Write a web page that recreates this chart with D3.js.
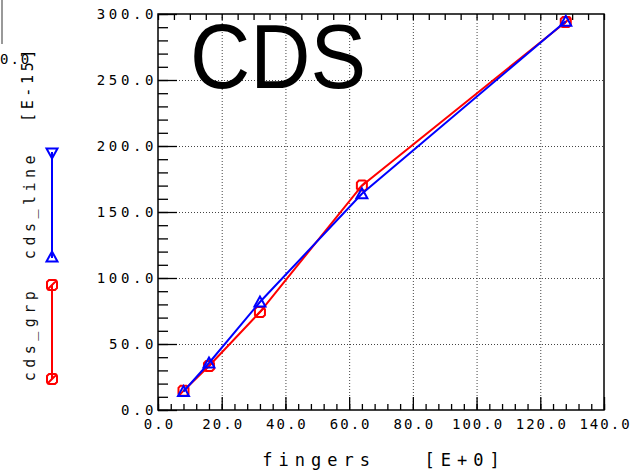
<!DOCTYPE html>
<html>
<head>
<meta charset="utf-8">
<script src="https://cdn.jsdelivr.net/npm/d3@7"></script>
<style>
  html, body { margin: 0; padding: 0; background: #fff; }
  svg { display: block; }
  .tick text { font-family: "DejaVu Sans Mono", monospace; font-size: 14px; fill: #000; }
  .yax .tick text { letter-spacing: 3.6px; }
  .xax .tick text { letter-spacing: 2px; }
</style>
</head>
<body>
<svg id="chart" width="644" height="470"></svg>
<script>
// ---- data ----
const fingers   = [8, 16, 32, 64, 128];
const cdsGrp    = [14.5, 33.3, 74.2, 170, 294];
const cdsLine   = [14, 35.6, 81.8, 163.8, 294.5];
const seriesNames = ["cds_grp", "cds_line"];
const seriesColors = ["#ff0000", "#0000ff"];
const xTickValues = [0, 20, 40, 60, 80, 100, 120, 140];
const yTickValues = [0, 50, 100, 150, 200, 250, 300];
const xLabel = "fingers   [E+0]";
const yUnit = "[E-15]";
const title = "CDS";

// ---- layout ----
const svg = d3.select("#chart");
const L = 158, R = 604, T = 14, B = 410;
const x = d3.scaleLinear().domain([0, 140]).range([L, R]);
const y = d3.scaleLinear().domain([0, 300]).range([B, T]);
const fmt = d3.format(".1f");

// grid (dotted)
const grid = svg.append("g").attr("stroke", "#444").attr("stroke-width", 1).attr("stroke-dasharray", "1,2");
xTickValues.slice(1, -1).forEach(v => {
  grid.append("line").attr("x1", x(v) + 0.5).attr("x2", x(v) + 0.5).attr("y1", T).attr("y2", B);
});
yTickValues.slice(1, -1).forEach(v => {
  grid.append("line").attr("x1", L).attr("x2", R).attr("y1", y(v) + 0.5).attr("y2", y(v) + 0.5);
});

// minor ticks
svg.append("g").attr("transform", `translate(${L},0)`)
  .call(d3.axisLeft(y).tickValues(d3.range(0, 301, 10)).tickSizeInner(-10).tickSizeOuter(0).tickFormat(""))
  .call(g => g.select(".domain").remove());
svg.append("g").attr("transform", `translate(0,${B})`)
  .call(d3.axisBottom(x).tickValues(d3.range(0, 141, 4)).tickSizeInner(-6).tickSizeOuter(0).tickFormat(""))
  .call(g => g.select(".domain").remove());
svg.append("g").attr("transform", `translate(0,${T})`)
  .call(d3.axisTop(x).tickValues(d3.range(0, 141, 5)).tickSizeInner(-6).tickSizeOuter(0).tickFormat(""))
  .call(g => g.select(".domain").remove());

// major ticks + labels
svg.append("g").attr("class", "yax").attr("transform", `translate(${L},0)`)
  .call(d3.axisLeft(y).tickValues(yTickValues).tickSizeInner(-19).tickSizeOuter(0).tickPadding(0).tickFormat(fmt))
  .call(g => g.select(".domain").remove())
  .call(g => g.selectAll("text").attr("x", -1).attr("dx", 0));
svg.append("g").attr("class", "xax").attr("transform", `translate(0,${B})`)
  .call(d3.axisBottom(x).tickValues(xTickValues).tickSizeInner(-13).tickSizeOuter(0).tickPadding(9).tickFormat(fmt))
  .call(g => g.select(".domain").remove())
  .call(g => g.selectAll("text").attr("dx", "1px"));

svg.selectAll(".tick line").attr("stroke", "#000").attr("stroke-width", 1.3);

// plot frame
svg.append("rect").attr("x", L).attr("y", T).attr("width", R - L).attr("height", B - T)
  .attr("fill", "none").attr("stroke", "#000").attr("stroke-width", 1.5);

// title
svg.append("text").attr("x", 190).attr("y", 88).text(title)
  .attr("font-family", "Liberation Sans, Arial, sans-serif").attr("font-size", 90)
  .attr("textLength", 176).attr("lengthAdjust", "spacingAndGlyphs").attr("fill", "#000");

// axis title
svg.append("text").attr("x", 384).attr("y", 466).attr("text-anchor", "middle").text(xLabel)
  .attr("font-family", "DejaVu Sans Mono, monospace").attr("font-size", 17)
  .attr("letter-spacing", "6px").attr("fill", "#000").style("white-space", "pre");

// y unit (rotated)
svg.append("text").attr("transform", "translate(33,84) rotate(-90)").attr("text-anchor", "middle")
  .text(yUnit).attr("font-family", "DejaVu Sans Mono, monospace").attr("font-size", 15)
  .attr("letter-spacing", "3.6px").attr("fill", "#000");

// fragment at top-left
svg.append("line").attr("x1", 2).attr("x2", 2).attr("y1", 0).attr("y2", 44).attr("stroke", "#999").attr("stroke-width", 2);
svg.append("text").attr("x", 0).attr("y", 64).attr("text-anchor", "start").text(fmt(0))
  .attr("font-family", "DejaVu Sans Mono, monospace").attr("font-size", 14).attr("letter-spacing", "2px");

// markers
function squareMarker(g, cx, cy, color) {
  const s = 5, c = 2;
  g.append("path")
    .attr("d", `M${cx - s + c},${cy - s}H${cx + s - c}L${cx + s},${cy - s + c}V${cy + s - c}L${cx + s - c},${cy + s}H${cx - s + c}L${cx - s},${cy + s - c}V${cy - s + c}Z M${cx - s},${cy + s}L${cx + s},${cy - s}`)
    .attr("fill", "none").attr("stroke", color).attr("stroke-width", 2);
}
function triMarker(g, cx, cy, color, down) {
  const s = 5.5, d = down ? -1 : 1;
  g.append("path")
    .attr("d", `M${cx},${cy - d * s}L${cx + s},${cy + d * s * 0.8}H${cx - s}Z`)
    .attr("fill", "none").attr("stroke", color).attr("stroke-width", 2);
}

const line = d3.line().x(d => x(d[0])).y(d => y(d[1]));
const datasets = [cdsGrp, cdsLine];
datasets.forEach((vals, i) => {
  const pts = fingers.map((f, j) => [f, vals[j]]);
  const g = svg.append("g");
  g.append("path").attr("d", line(pts)).attr("fill", "none")
    .attr("stroke", seriesColors[i]).attr("stroke-width", 2);
  pts.forEach(p => {
    if (i === 0) squareMarker(g, x(p[0]), y(p[1]), seriesColors[i]);
    else triMarker(g, x(p[0]), y(p[1]), seriesColors[i], false);
  });
});

// legend (vertical, left side)
const leg = svg.append("g");
// cds_line
leg.append("line").attr("x1", 52).attr("x2", 52).attr("y1", 152).attr("y2", 258)
  .attr("stroke", seriesColors[1]).attr("stroke-width", 2);
triMarker(leg, 52, 153, seriesColors[1], true);
triMarker(leg, 52, 257, seriesColors[1], false);
leg.append("text").attr("transform", "translate(35,205) rotate(-90)").attr("text-anchor", "middle")
  .text(seriesNames[1]).attr("font-family", "DejaVu Sans Mono, monospace").attr("font-size", 15)
  .attr("letter-spacing", "4.5px").attr("fill", "#111");
// cds_grp
leg.append("line").attr("x1", 52).attr("x2", 52).attr("y1", 285).attr("y2", 379)
  .attr("stroke", seriesColors[0]).attr("stroke-width", 2);
squareMarker(leg, 52, 285, seriesColors[0]);
squareMarker(leg, 52, 379, seriesColors[0]);
leg.append("text").attr("transform", "translate(35,334) rotate(-90)").attr("text-anchor", "middle")
  .text(seriesNames[0]).attr("font-family", "DejaVu Sans Mono, monospace").attr("font-size", 15)
  .attr("letter-spacing", "4.5px").attr("fill", "#111");
</script>
</body>
</html>
